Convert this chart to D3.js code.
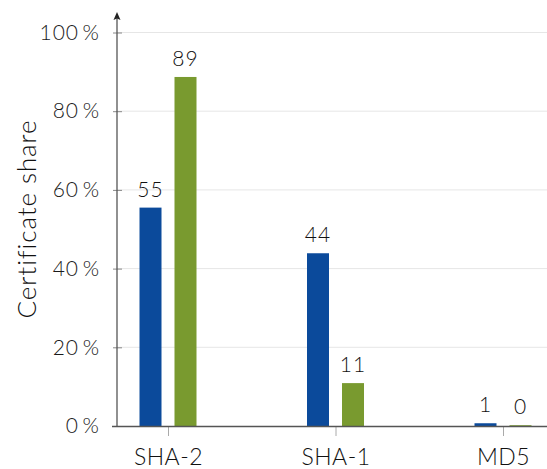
<!DOCTYPE html>
<html>
<head>
<meta charset="utf-8">
<script src="https://cdn.jsdelivr.net/npm/d3@7"></script>
<style>
  html, body { margin: 0; padding: 0; background: #fff; }
  svg { display: block; font-family: Lato, "Open Sans", sans-serif; font-weight: 300; }
</style>
</head>
<body>
<svg id="chart" width="547" height="469"></svg>
<script>
const categories = ["SHA-2", "SHA-1", "MD5"];
const seriesA = [55.5, 43.9, 0.7];
const seriesB = [88.7, 10.9, 0.2];
const labelsA = ["55", "44", "1"];
const labelsB = ["89", "11", "0"];
const yTicks = [0, 20, 40, 60, 80, 100];
const yTitle = "Certificate share";
const colors = ["#0b4a9b", "#799a2f"];

const svg = d3.select("#chart");
const x = d3.scalePoint().domain(categories).range([168, 503]);
const y = d3.scaleLinear().domain([0, 100]).range([426, 32.5]);
const sub = d3.scaleBand().domain([0, 1]).range([-28.5, 28.5]).paddingInner(13 / 35).paddingOuter(0);

// gridlines
svg.append("g").selectAll("line").data(yTicks.filter(d => d > 0)).join("line")
  .attr("x1", 117).attr("x2", 547)
  .attr("y1", d => y(d)).attr("y2", d => y(d))
  .attr("stroke", "#e6e6e6").attr("stroke-width", 1);

// y axis
const yAxis = d3.axisLeft(y).tickValues(yTicks).tickSize(4).tickFormat(d => d + "\u2009%");
const ga = svg.append("g").attr("transform", "translate(117,0)").call(yAxis);
ga.select(".domain").remove();
ga.selectAll(".tick line").attr("x2", 5).attr("x1", -4).attr("stroke", "#888");
ga.selectAll(".tick text").attr("x", -17).attr("font-size", 21).attr("fill", "#1a1a1a")
  .attr("letter-spacing", 1).attr("font-family", "Lato, sans-serif");
svg.append("line").attr("x1", 117).attr("x2", 117).attr("y1", 427).attr("y2", 16)
  .attr("stroke", "#555").attr("stroke-width", 1.3);
svg.append("path").attr("d", "M117,12 L113.5,20 L117,18.5 L120.5,20 Z").attr("fill", "#222");

// bars
const data = [];
categories.forEach((c, i) => {
  data.push({c, s: 0, v: seriesA[i], l: labelsA[i]});
  data.push({c, s: 1, v: seriesB[i], l: labelsB[i]});
});
svg.append("g").selectAll("rect").data(data).join("rect")
  .attr("x", d => x(d.c) + sub(d.s))
  .attr("width", sub.bandwidth())
  .attr("y", d => y(d.v))
  .attr("height", d => Math.max(1, y(0) - y(d.v)))
  .attr("fill", d => colors[d.s]);

svg.append("g").selectAll("text").data(data).join("text")
  .attr("x", d => x(d.c) + sub(d.s) + sub.bandwidth() / 2)
  .attr("y", d => y(d.v) - 11)
  .attr("text-anchor", "middle")
  .attr("font-size", 21).attr("letter-spacing", 1).attr("fill", "#111")
  .text(d => d.l);

// x axis
const xAxis = d3.axisBottom(x).tickSize(10).tickSizeOuter(0);
const gx = svg.append("g").attr("transform", "translate(0,426)").call(xAxis);
gx.select(".domain").remove();
gx.selectAll(".tick line").attr("stroke", "#aaa");
gx.selectAll(".tick text").attr("dy", 0).attr("y", 39).attr("font-size", 23)
  .attr("letter-spacing", 0.5).attr("font-family", "Lato, sans-serif").attr("fill", "#111");
svg.append("line").attr("x1", 112).attr("x2", 547).attr("y1", 426.5).attr("y2", 426.5)
  .attr("stroke", "#555").attr("stroke-width", 1.3);

// y title
svg.append("text")
  .attr("transform", "translate(36,219) rotate(-90)")
  .attr("text-anchor", "middle")
  .attr("font-size", 26).attr("letter-spacing", 0.9).attr("fill", "#111")
  .text(yTitle);
</script>
</body>
</html>
